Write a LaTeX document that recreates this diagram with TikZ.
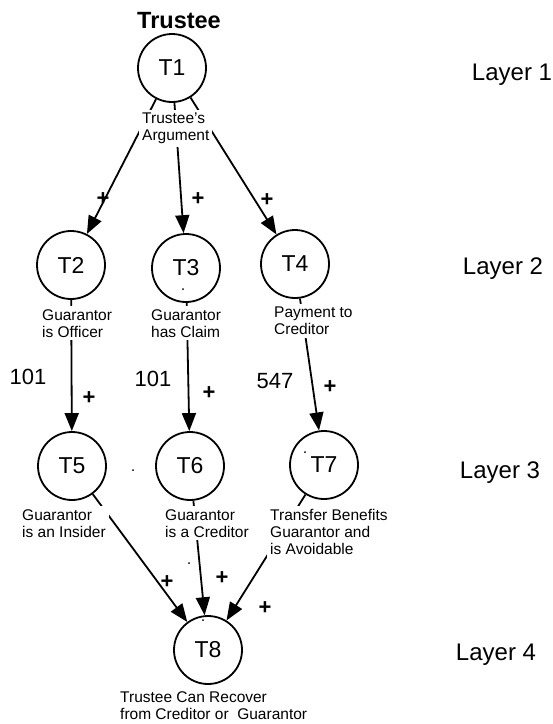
\documentclass[tikz,border=0pt]{standalone}
\usepackage{fontspec}
\setmainfont{Liberation Sans}
\usetikzlibrary{arrows.meta}
\begin{document}
\begin{tikzpicture}[x=1pt,y=-1pt,
    state/.style={draw,circle,line width=1.8pt,minimum size=68pt,inner sep=0pt,
      font=\fontsize{23}{23}\selectfont},
    lbl/.style={anchor=north west,align=left,fill=white,inner sep=3pt,
      font=\fontsize{15.5}{17}\selectfont},
    plus/.style={inner sep=0pt,font=\fontsize{22}{22}\selectfont\bfseries},
    sec/.style={anchor=base,font=\fontsize{22}{22}\selectfont},
    layer/.style={anchor=base,font=\fontsize{24}{24}\selectfont},
    arr/.style={line width=1.8pt,-{Triangle[length=18pt,width=14pt]}}]
  \useasboundingbox (0,0) rectangle (553,724);
  \node[anchor=base,font=\fontsize{23.5}{23.5}\selectfont\bfseries] (title) at (179,28) {Trustee};
  % the eight states
  \node[state] (T1) at (172,68) {T1};
  \node[state] (T2) at (71,265) {T2};
  \node[state] (T3) at (186,268) {T3};
  \node[state] (T4) at (295,264) {T4};
  \node[state] (T5) at (72,466) {T5};
  \node[state] (T6) at (190,466) {T6};
  \node[state] (T7) at (324,465) {T7};
  \node[state] (T8) at (208,650) {T8};
  % links
  \draw[arr] (T1) -- (T2);
  \draw[arr] (T1) -- (T3);
  \draw[arr] (T1) -- (T4);
  \draw[arr] (T2) -- (T5);
  \draw[arr] (T3) -- (T6);
  \draw[arr] (T4) -- (T7);
  \draw[arr] (T5) -- (T8);
  \draw[arr] (T6) -- (T8);
  \draw[arr] (T7) -- (T8);
  % captions under the states
  \node[lbl] (c1) at (139,110) {Trustee's\\Argument};
  \node[lbl] (c2) at (39,306) {Guarantor\\is Officer};
  \node[lbl] (c3) at (148,306) {Guarantor\\has Claim};
  \node[lbl] (c4) at (271,304) {Payment to\\Creditor};
  \node[lbl] (c5) at (19,506) {Guarantor\\is an Insider};
  \node[lbl] (c6) at (162,506) {Guarantor\\is a Creditor};
  \node[lbl] (c7) at (267,506) {Transfer Benefits\\Guarantor and\\is Avoidable};
  \node[lbl] (c8) at (117,688) {Trustee Can Recover\\from Creditor or\ \ Guarantor};
  % signs
  \node[plus] (p12) at (103,199) {+};
  \node[plus] (p13) at (198,199) {+};
  \node[plus] (p14) at (267,200) {+};
  \node[plus] (p25) at (89,398) {+};
  \node[plus] (p36) at (209,393) {+};
  \node[plus] (p47) at (330,387) {+};
  \node[plus] (p58) at (167,582) {+};
  \node[plus] (p68) at (222,578) {+};
  \node[plus] (p78) at (265,608) {+};
  % sections
  \node[sec] (s25) at (28,384) {101};
  \node[sec] (s36) at (153,386) {101};
  \node[sec] (s47) at (275,388) {547};
  % layers
  \node[layer] (L1) at (512,80) {Layer 1};
  \node[layer] (L2) at (503,274) {Layer 2};
  \node[layer] (L3) at (500,478) {Layer 3};
  \node[layer] (L4) at (496,660) {Layer 4};
  % specks
  \fill (183,289) circle (1pt);
  \fill (133,470) circle (1pt);
  \fill (305,452) circle (1pt);
  \fill (189,563) circle (1pt);
  \fill (203,620) circle (1pt);
\end{tikzpicture}
\end{document}
